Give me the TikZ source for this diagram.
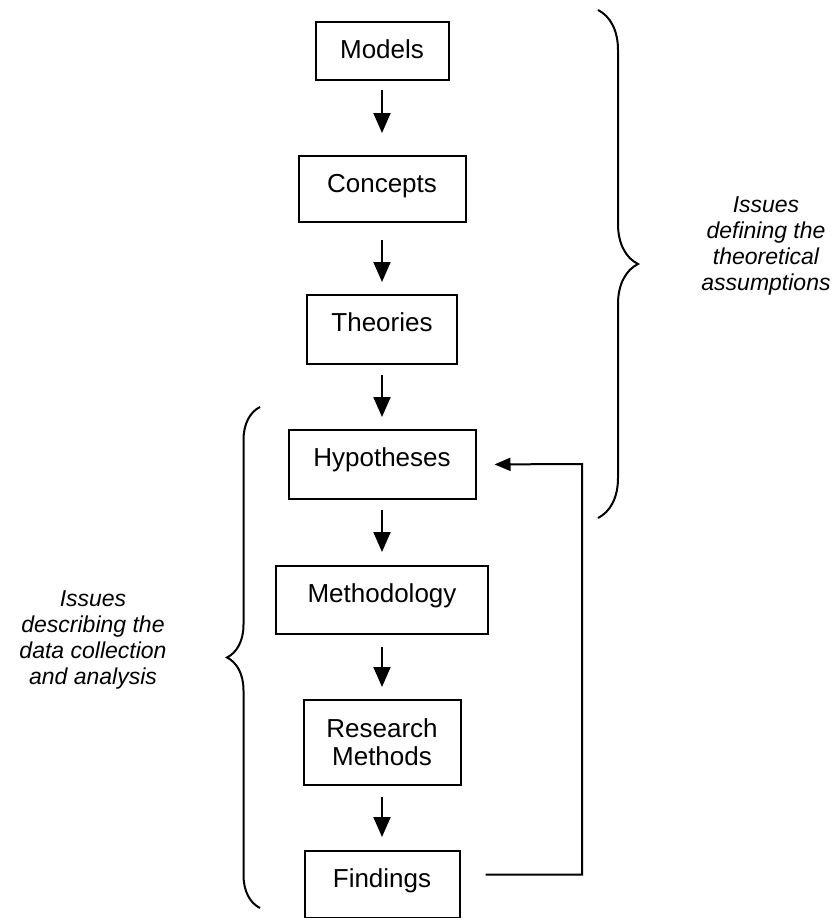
\documentclass[tikz,border=0pt]{standalone}
\usepackage{fontspec}
\setmainfont{Liberation Sans}
\usetikzlibrary{arrows.meta,decorations.pathreplacing,calc}
\begin{document}
\begin{tikzpicture}[x=1pt,y=-1pt,
  stage/.style 2 args={draw, line width=2pt, rectangle, minimum width=#1,
    inner xsep=0pt, inner ysep=17pt, text height=19pt, text depth=#2,
    anchor=north, font=\fontsize{26}{28}\selectfont},
  flow/.style={line width=2pt, -{Triangle[length=20pt,width=17pt]}},
  back/.style={line width=2pt, -{Triangle[length=16pt,width=13pt]}},
  curly/.style={line width=2pt, decorate, decoration={brace, amplitude=#1}},
  note/.style={align=center, font=\fontsize{23}{26}\selectfont\itshape}]

% canvas
\fill[white] (0,0) rectangle (833,918);
\useasboundingbox (0,0) rectangle (833,918);

% stages of the research process
\node[stage={133pt}{5pt}]  (models)   at (382,21)  {Models};
\node[stage={167pt}{13pt}] (concepts) at (382,155) {Concepts};
\node[stage={150pt}{16pt}] (theories) at (382,294) {Theories};
\node[stage={187pt}{16pt}] (hyp)      at (382,429) {Hypotheses};
\node[stage={212pt}{15pt}] (meth)     at (382,565) {Methodology};
\node[draw, line width=2pt, rectangle, minimum width=157pt, minimum height=85pt,
      inner sep=0pt, align=center, anchor=north,
      font=\fontsize{26}{28}\selectfont] (rm) at (382,699) {Research\\Methods};
\node[stage={155pt}{14pt}] (findings) at (382,850) {Findings};

% downward flow
\draw[flow, shorten <=9pt,  shorten >=22pt] (models)   -- (concepts);
\draw[flow, shorten <=17pt, shorten >=12pt] (concepts) -- (theories);
\draw[flow, shorten <=10pt, shorten >=12pt] (theories) -- (hyp);
\draw[flow, shorten <=10pt, shorten >=13pt] (hyp)      -- (meth);
\draw[flow, shorten <=12pt, shorten >=12pt] (meth)     -- (rm);
\draw[flow, shorten <=11pt, shorten >=13pt] (rm)       -- (findings);

% feedback from findings to hypotheses
\coordinate (turn) at (582,464);
\draw[back, shorten >=18pt] ($(findings.east)+(25pt,10pt)$) -| (turn) -- (hyp.east);

% braces and their labels
\draw[curly=40pt] (598,10) -- (598,518);
\draw[curly=33pt] (260,908) -- (260,407);

\node[note] (theo) at (766,246) {Issues\\defining the\\theoretical\\assumptions};
\node[note] (data) at (93,640)  {Issues\\describing the\\data collection\\and analysis};
\end{tikzpicture}
\end{document}
